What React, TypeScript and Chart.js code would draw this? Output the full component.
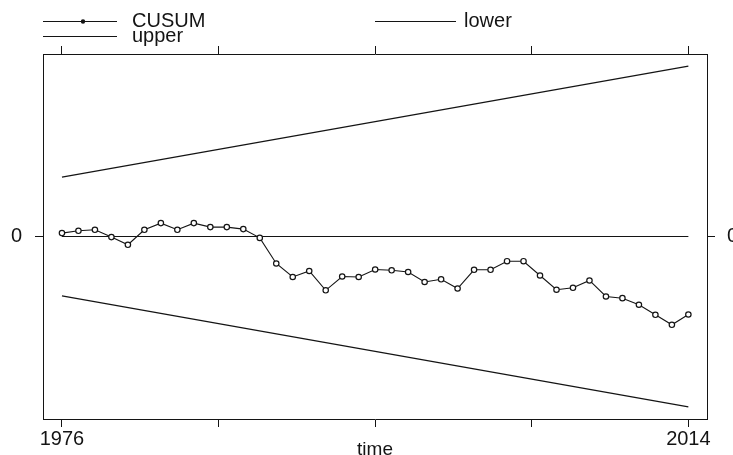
import React, { useEffect, useRef } from "react";
import { Chart, registerables } from "chart.js";

Chart.register(...registerables);

// ---- data ----
const years = [
  1976, 1977, 1978, 1979, 1980, 1981, 1982, 1983, 1984, 1985, 1986, 1987, 1988,
  1989, 1990, 1991, 1992, 1993, 1994, 1995, 1996, 1997, 1998, 1999, 2000, 2001,
  2002, 2003, 2004, 2005, 2006, 2007, 2008, 2009, 2010, 2011, 2012, 2013, 2014,
];
const cusum = [
  0.057, 0.095, 0.112, -0.01, -0.138, 0.112, 0.223, 0.112, 0.223, 0.157, 0.157,
  0.123, -0.023, -0.45, -0.675, -0.575, -0.897, -0.667, -0.675, -0.55, -0.563,
  -0.592, -0.758, -0.713, -0.867, -0.555, -0.555, -0.412, -0.412, -0.65, -0.888,
  -0.855, -0.733, -1.0, -1.028, -1.138, -1.305, -1.472, -1.3,
];
const boundYears = [1976, 2014];
const upperBound = [0.99, 2.84];
const lowerBound = [-0.99, -2.84];
const zeroLine = [0, 0];
const xTickValues = [1976, 1985.5, 1995, 2004.5, 2014];
const xTickLabels = ["1976", "", "", "", "2014"];
const yTickValues = [0];
const yTickLabels = ["0"];
const legendLabels = ["CUSUM", "lower", "upper"];

const INK = "#141414";
const FONT = "'Liberation Sans', Arial, sans-serif";

const legendPlugin = {
  id: "rStyleLegend",
  afterDraw(chart: any) {
    const ctx = chart.ctx as CanvasRenderingContext2D;
    ctx.save();
    ctx.strokeStyle = INK;
    ctx.fillStyle = INK;
    ctx.lineWidth = 1.2;
    ctx.font = `20px ${FONT}`;
    ctx.textBaseline = "alphabetic";
    ctx.textAlign = "left";
    const items = [
      { label: legendLabels[0], x0: 43, x1: 117, y: 21.5, tx: 132, marker: true },
      { label: legendLabels[1], x0: 375, x1: 456, y: 21.5, tx: 464, marker: false },
      { label: legendLabels[2], x0: 43, x1: 117, y: 36.5, tx: 132, marker: false },
    ];
    for (const it of items) {
      ctx.beginPath();
      ctx.moveTo(it.x0, it.y);
      ctx.lineTo(it.x1, it.y);
      ctx.stroke();
      if (it.marker) {
        ctx.beginPath();
        ctx.arc((it.x0 + it.x1) / 2 + 3, it.y, 2.2, 0, Math.PI * 2);
        ctx.fill();
      }
      ctx.fillText(it.label, it.tx, it.y + 5.5);
    }
    ctx.restore();
  },
};

function pts(xs: number[], ys: number[]) {
  return xs.map((x, i) => ({ x, y: ys[i] }));
}

export default function App() {
  const ref = useRef<HTMLCanvasElement | null>(null);

  useEffect(() => {
    if (!ref.current) return;
    const tickFont = { family: FONT, size: 20 };
    const gridCommon = {
      drawOnChartArea: false,
      drawTicks: true,
      tickLength: 8,
      color: INK,
      lineWidth: 1,
    };
    const borderCommon = { display: true, color: INK, width: 1 };
    const xMin = 1974.85;
    const xMax = 2015.13;
    const yMin = -3.042;
    const yMax = 3.042;

    const chart = new Chart(ref.current, {
      type: "line",
      data: {
        datasets: [
          {
            label: legendLabels[0],
            data: pts(years, cusum),
            borderColor: INK,
            borderWidth: 1.1,
            pointRadius: 2.7,
            pointBorderWidth: 1.2,
            pointBackgroundColor: "#ffffff",
            pointBorderColor: INK,
            tension: 0,
          },
          {
            label: legendLabels[1],
            data: pts(boundYears, lowerBound),
            borderColor: INK,
            borderWidth: 1.1,
            pointRadius: 0,
          },
          {
            label: legendLabels[2],
            data: pts(boundYears, upperBound),
            borderColor: INK,
            borderWidth: 1.1,
            pointRadius: 0,
          },
          {
            label: "zero",
            data: pts(boundYears, zeroLine),
            borderColor: INK,
            borderWidth: 1.1,
            pointRadius: 0,
          },
        ],
      },
      options: {
        responsive: false,
        animation: false,
        devicePixelRatio: 1,
        layout: { padding: { top: 46, left: 0, right: 0, bottom: 0 } },
        plugins: {
          legend: { display: false },
          tooltip: { enabled: false },
        },
        scales: {
          x: {
            type: "linear",
            position: "bottom",
            min: xMin,
            max: xMax,
            grid: gridCommon,
            border: borderCommon,
            afterBuildTicks: (axis: any) => {
              axis.ticks = xTickValues.map((v) => ({ value: v }));
            },
            afterFit: (axis: any) => {
              axis.height = 36;
            },
            ticks: {
              autoSkip: false,
              maxRotation: 0,
              minRotation: 0,
              padding: 0,
              color: INK,
              font: tickFont,
              callback: (v: any) => {
                const i = xTickValues.indexOf(Number(v));
                return i >= 0 ? xTickLabels[i] : "";
              },
            },
            title: {
              display: true,
              text: "time",
              color: INK,
              font: { family: FONT, size: 19, lineHeight: 1 },
              padding: { top: 0, bottom: -4 },
            },
          },
          xTop: {
            type: "linear",
            position: "top",
            min: xMin,
            max: xMax,
            grid: gridCommon,
            border: borderCommon,
            afterBuildTicks: (axis: any) => {
              axis.ticks = xTickValues.map((v) => ({ value: v }));
            },
            afterFit: (axis: any) => {
              axis.height = 8;
            },
            ticks: { display: false },
          },
          y: {
            type: "linear",
            position: "left",
            min: yMin,
            max: yMax,
            grid: gridCommon,
            border: borderCommon,
            afterBuildTicks: (axis: any) => {
              axis.ticks = yTickValues.map((v) => ({ value: v }));
            },
            afterFit: (axis: any) => {
              axis.width = 43;
            },
            ticks: {
              padding: 13,
              color: INK,
              font: tickFont,
              callback: (v: any) => {
                const i = yTickValues.indexOf(Number(v));
                return i >= 0 ? yTickLabels[i] : "";
              },
            },
          },
          yRight: {
            type: "linear",
            position: "right",
            min: yMin,
            max: yMax,
            grid: gridCommon,
            border: borderCommon,
            afterBuildTicks: (axis: any) => {
              axis.ticks = yTickValues.map((v) => ({ value: v }));
            },
            afterFit: (axis: any) => {
              axis.width = 26;
            },
            ticks: {
              padding: 12,
              color: INK,
              font: tickFont,
              callback: (v: any) => {
                const i = yTickValues.indexOf(Number(v));
                return i >= 0 ? yTickLabels[i] : "";
              },
            },
          },
        },
      } as any,
      plugins: [legendPlugin],
    });
    return () => chart.destroy();
  }, []);

  return (
    <div
      style={{
        position: "fixed",
        left: 0,
        top: 0,
        width: 733,
        height: 455,
        background: "#ffffff",
        overflow: "hidden",
      }}
    >
      <canvas ref={ref} width={733} height={455} style={{ display: "block" }} />
    </div>
  );
}
